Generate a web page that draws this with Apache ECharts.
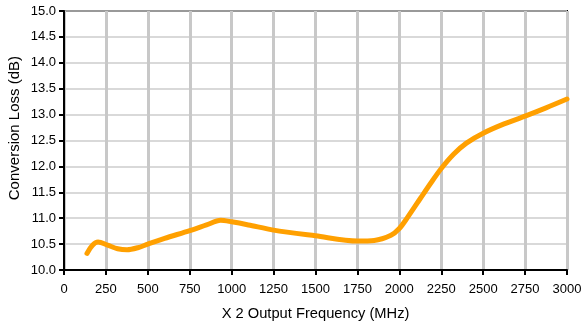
<!DOCTYPE html>
<html>
<head>
<meta charset="utf-8">
<script src="https://cdn.jsdelivr.net/npm/echarts@6/dist/echarts.min.js"></script>
<style>
  html, body { margin: 0; padding: 0; background: #fff; }
  #chart { width: 582px; height: 329px; }
</style>
</head>
<body>
<div id="chart"></div>
<script>
// values
var freq = [137, 170, 203, 260, 320, 376, 440, 500, 600, 750, 850, 934, 1000, 1100, 1250, 1500, 1750, 1850, 1950, 2000, 2050, 2125, 2190, 2250, 2325, 2400, 2500, 2625, 2750, 2875, 3000];
var loss = [10.32, 10.48, 10.54, 10.48, 10.41, 10.39, 10.43, 10.50, 10.61, 10.76, 10.87, 10.96, 10.93, 10.87, 10.77, 10.66, 10.56, 10.57, 10.67, 10.80, 11.02, 11.38, 11.69, 11.96, 12.24, 12.45, 12.64, 12.82, 12.97, 13.13, 13.30];
var xTicks = { min: 0, max: 3000, step: 250 };
var yTicks = { min: 10, max: 15, step: 0.5 };
var xName = 'X 2 Output Frequency (MHz)';
var yName = 'Conversion Loss (dB)';

var pts = [];
for (var i = 0; i < freq.length; i++) pts.push([freq[i], loss[i]]);

var chart = echarts.init(document.getElementById('chart'), null, { renderer: 'canvas' });
var font = 'Liberation Sans, Arial, sans-serif';

var option = {
  animation: false,
  grid: {
    left: 64, right: 15, top: 11, bottom: 59,
    containLabel: false, outerBoundsMode: 'none',
    show: true, borderColor: '#000', borderWidth: 2
  },
  graphic: [{
    type: 'text',
    left: 7, top: 56,
    rotation: Math.PI / 2,
    style: { text: yName, fill: '#000', font: '15px ' + font }
  }],
  xAxis: {
    type: 'value',
    min: xTicks.min, max: xTicks.max, interval: xTicks.step,
    name: xName,
    nameLocation: 'middle', nameGap: 36,
    nameTextStyle: { color: '#000', fontSize: 14.7, fontFamily: font },
    axisLine: { lineStyle: { color: '#000', width: 2 } },
    axisTick: { show: true, length: 5, lineStyle: { color: '#000', width: 2 } },
    axisLabel: { color: '#000', fontSize: 13, fontFamily: font, margin: 13,
      formatter: function (v) { return String(v); } },
    splitLine: { show: true, lineStyle: { color: '#c8c8c8', width: 3 } }
  },
  yAxis: {
    type: 'value',
    min: yTicks.min, max: yTicks.max, interval: yTicks.step,
    axisLine: { show: true, lineStyle: { color: '#000', width: 2 } },
    axisTick: { show: true, length: 5, lineStyle: { color: '#000', width: 2 } },
    axisLabel: { color: '#000', fontSize: 13, fontFamily: font, margin: 8,
      formatter: function (v) { return v.toFixed(1); } },
    splitLine: { show: true, lineStyle: { color: '#cccccc', width: 1.5 } }
  },
  series: [{
    type: 'line',
    data: pts,
    smooth: 0.3,
    showSymbol: false,
    lineStyle: { color: '#ffa000', width: 5, cap: 'round' }
  }]
};
chart.setOption(option);
</script>
</body>
</html>
